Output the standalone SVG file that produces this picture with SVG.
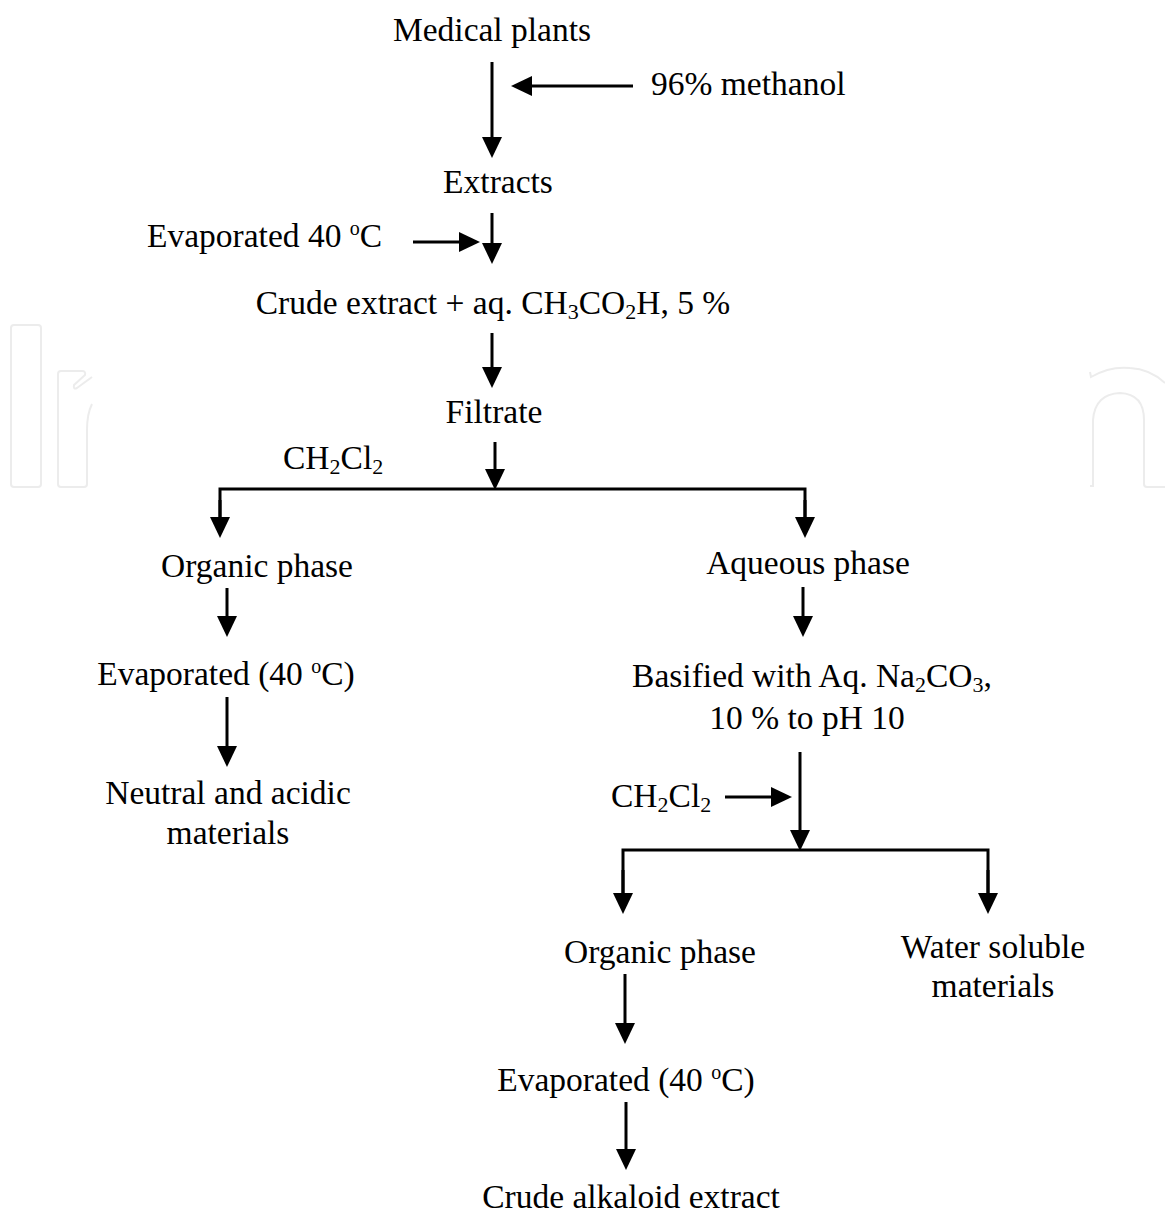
<svg xmlns="http://www.w3.org/2000/svg" width="1165" height="1216" viewBox="0 0 1165 1216">
<defs>
<marker id="ah" markerUnits="userSpaceOnUse" markerWidth="21" markerHeight="20" refX="10" refY="10" orient="auto">
<path d="M0,0 L21,10 L0,20 z" fill="#000"/>
</marker>
<style>
text{font-family:"Liberation Serif","Times New Roman",serif;font-size:33.5px;fill:#000}
.c{text-anchor:middle}
.sub{font-size:22px}
.sup{font-size:20px}
.ln{stroke:#000;stroke-width:3;fill:none}
.ar{stroke:#000;stroke-width:3;fill:none;marker-end:url(#ah)}
.wm{stroke:#ececec;stroke-width:2;fill:none}
</style>
</defs>
<rect width="1165" height="1216" fill="#fff"/>
<g id="watermark">
<rect class="wm" x="11" y="325" width="30" height="162" rx="3"/>
<path class="wm" d="M92,377 L77,388 Q73,390 74,385 L85,375 Q86,371 82,371 L61,371 Q58,371 58,374 L58,484 Q58,487 61,487 L84,487 Q87,487 87,484 L87,430 Q87,414 92,404"/>
<path class="wm" d="M1090,372 L1091,377 Q1110,366 1130,368 Q1150,369 1165,383"/>
<path class="wm" d="M1090,486 L1093,486 L1093,420 Q1095,394 1120,393 Q1144,394 1144,420 L1144,484 Q1144,487 1147,487 L1165,487"/>
</g>
<g id="connectors">
<line class="ar" x1="492" y1="62" x2="492" y2="147"/>
<line class="ar" x1="633" y1="86" x2="522" y2="86"/>
<line class="ar" x1="413" y1="242" x2="469" y2="242"/>
<line class="ar" x1="492" y1="213" x2="492" y2="253"/>
<line class="ar" x1="492" y1="333" x2="492" y2="377"/>
<line class="ar" x1="495" y1="442" x2="495" y2="479"/>
<polyline class="ln" points="220,527 220,489 805,489 805,527"/>
<line class="ar" x1="220" y1="500" x2="220" y2="527"/>
<line class="ar" x1="805" y1="500" x2="805" y2="527"/>
<line class="ar" x1="227" y1="588" x2="227" y2="626"/>
<line class="ar" x1="227" y1="697" x2="227" y2="756"/>
<line class="ar" x1="803" y1="587" x2="803" y2="626"/>
<line class="ar" x1="800" y1="752" x2="800" y2="840"/>
<line class="ar" x1="725" y1="797" x2="781" y2="797"/>
<polyline class="ln" points="623,903 623,850 988,850 988,903"/>
<line class="ar" x1="623" y1="870" x2="623" y2="903"/>
<line class="ar" x1="988" y1="870" x2="988" y2="903"/>
<line class="ar" x1="625" y1="974" x2="625" y2="1033"/>
<line class="ar" x1="626" y1="1102" x2="626" y2="1159"/>
</g>
<g id="n-medical-plants"><text class="c" x="492" y="41">Medical plants</text></g>
<g id="n-methanol"><text x="651" y="95">96% methanol</text></g>
<g id="n-extracts"><text class="c" x="498" y="193">Extracts</text></g>
<g id="n-evap1"><text x="147" y="247">Evaporated 40 <tspan class="sup" dy="-12">o</tspan><tspan dy="12">C</tspan></text></g>
<g id="n-crude"><text class="c" x="493" y="314">Crude extract + aq. CH<tspan class="sub" dy="5">3</tspan><tspan dy="-5">CO</tspan><tspan class="sub" dy="5">2</tspan><tspan dy="-5">H, 5 %</tspan></text></g>
<g id="n-filtrate"><text class="c" x="494" y="423">Filtrate</text></g>
<g id="n-ch2cl2-1"><text x="283" y="469">CH<tspan class="sub" dy="5">2</tspan><tspan dy="-5">Cl</tspan><tspan class="sub" dy="5">2</tspan></text></g>
<g id="n-organic1"><text class="c" x="257" y="577">Organic phase</text></g>
<g id="n-evap2"><text class="c" x="226" y="685">Evaporated (40 <tspan class="sup" dy="-12">o</tspan><tspan dy="12">C)</tspan></text></g>
<g id="n-neutral"><text class="c" x="228" y="804">Neutral and acidic</text><text class="c" x="228" y="844">materials</text></g>
<g id="n-aqueous"><text class="c" x="808" y="574">Aqueous phase</text></g>
<g id="n-basified"><text class="c" x="812" y="687">Basified with Aq. Na<tspan class="sub" dy="5">2</tspan><tspan dy="-5">CO</tspan><tspan class="sub" dy="5">3</tspan><tspan dy="-5">,</tspan></text><text class="c" x="807" y="729">10 % to pH 10</text></g>
<g id="n-ch2cl2-2"><text x="611" y="807">CH<tspan class="sub" dy="5">2</tspan><tspan dy="-5">Cl</tspan><tspan class="sub" dy="5">2</tspan></text></g>
<g id="n-organic2"><text class="c" x="660" y="963">Organic phase</text></g>
<g id="n-water"><text class="c" x="993" y="958">Water soluble</text><text class="c" x="993" y="997">materials</text></g>
<g id="n-evap3"><text class="c" x="626" y="1091">Evaporated (40 <tspan class="sup" dy="-12">o</tspan><tspan dy="12">C)</tspan></text></g>
<g id="n-alkaloid"><text class="c" x="631" y="1208">Crude alkaloid extract</text></g>
</svg>
